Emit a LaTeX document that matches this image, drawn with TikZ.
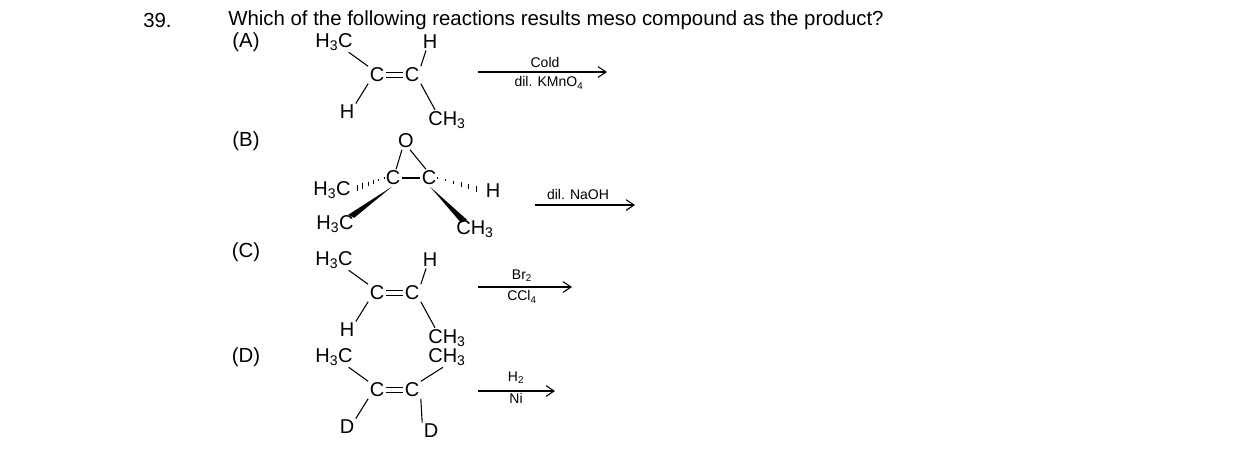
\documentclass[tikz,border=0pt]{standalone}
\usepackage{fontspec}
\setmainfont{Liberation Sans}
\usetikzlibrary{calc,arrows.meta}
\newcommand\sbs[1]{\textsubscript{#1}}
\begin{document}
\begin{tikzpicture}[x=0.75pt,y=-0.75pt,
  txt/.style={inner sep=0pt,font=\fontsize{15.3}{17}\selectfont},
  atm/.style={inner sep=1pt,font=\fontsize{15}{17}\selectfont},
  sm/.style={inner sep=0pt,font=\fontsize{10.5}{12}\selectfont},
  bd/.style={line width=0.8pt},
  rx/.style={line width=0.8pt,-{Straight Barb[length=6pt,width=8pt]}}]
\useasboundingbox (0,0) rectangle (1238,462);
\node[txt,anchor=west] (n39) at (143,20) {39.};
\node[txt,anchor=west] (q) at (228,20) {Which of the following reactions results meso compound as the product?};
\node[txt] (la) at (246,42) {(A)};
\node[txt] (lb) at (246,141) {(B)};
\node[txt] (lc) at (246,252) {(C)};
\node[txt] (ld) at (246,357) {(D)};
\newcommand\myalkene[6]{%
 \begin{scope}[shift={(0,#1)}]
 \node[atm] (#6tl) at (334,0) {#2};
 \node[atm] (#6tr) at (#3,0) {#4};
 \node[atm] (#6c1) at (377,33) {C};
 \node[atm] (#6c2) at (412,33) {C};
 \node[atm] (#6bl) at (347,70) {#5};
 \end{scope}
 \draw[bd] (#6c1.east)++(0,-2.2) coordinate (#6a1) -- (#6c2.west|-#6a1);
 \draw[bd] (#6c1.east)++(0,2.2) coordinate (#6a2) -- (#6c2.west|-#6a2);
 \draw[bd] ([xshift=11pt]#6tl.south) -- (#6c1.north west);
 \draw[bd] (#6c1.south west) -- (#6bl.north east);
 \draw[bd] (#6c2.north east) -- ([xshift=-3pt]#6tr.south);
}
\myalkene{42}{H\sbs{3}C}{430}{H}{H}{a}
\node[atm] (abr) at (447,120) {CH\sbs{3}};
\draw[bd] (ac2.south east) -- ([xshift=-9pt]abr.north);
\draw[rx] (478,72) coordinate (ar1) -- (607,72) coordinate (ar2);
\node[sm] (a1) at (545,62) {Cold};
\node[sm] (a2) at (549,83) {dil. KMnO\sbs{4}};
% B
\node[atm] (bo) at (406,141) {O};
\node[atm] (bc1) at (393,178) {C};
\node[atm] (bc2) at (429,178) {C};
\node[atm] (bh3c) at (332,190) {H\sbs{3}C};
\node[atm] (bh) at (493,191) {H};
\node[atm] (bh3c2) at (335,224) {H\sbs{3}C};
\node[atm] (bch3) at (475,229) {CH\sbs{3}};
\draw[bd] ($(bo.south)+(-4,0)$) -- ($(bc1.north)+(3,0)$);
\draw[bd] ($(bo.south)+(4,0)$) -- ($(bc2.north)+(-3,0)$);
\draw[bd] (bc1.east) -- (bc2.west);
\foreach \i in {0,...,5}{
 \draw[line width=0.7pt] ($(bc1.west)!{\i/6}!(bh3c.east)+(0,-0.8-\i*0.45)$) -- ++(0,{1.6+\i*0.9});
 \draw[line width=0.7pt] ($(bc2.east)!{\i/6}!(bh.west)+(0,-0.8-\i*0.45)$) -- ++(0,{1.6+\i*0.9});
}
\fill ($(bc1.south)+(-1,0)$) -- ($(bh3c2.north east)+(-7,1)$) -- ($(bh3c2.north east)+(-1,4)$) -- cycle;
\fill ($(bc2.south)+(1,0)$) -- ($(bch3.north)+(-14,4)$) -- ($(bch3.north)+(-8,1)$) -- cycle;
\draw[rx] (535,205) coordinate (br1) -- (635,205) coordinate (br2);
\node[sm] (b1) at (578,194) {dil. NaOH};
% C
\myalkene{260}{H\sbs{3}C}{430}{H}{H}{c}
\node[atm] (cbr) at (447,338) {CH\sbs{3}};
\draw[bd] (cc2.south east) -- ([xshift=-9pt]cbr.north);
\draw[rx] (478,287) coordinate (cr1) -- (572,287) coordinate (cr2);
\node[sm] (c1) at (522,276) {Br\sbs{2}};
\node[sm] (c2) at (522,297) {CCl\sbs{4}};
% D
\myalkene{357}{H\sbs{3}C}{447}{CH\sbs{3}}{D}{d}
\node[atm] (dbr) at (431,431) {D};
\draw[bd] (dc2.south east) -- (dbr.north west);
\draw[rx] (478,391) coordinate (dr1) -- (555,391) coordinate (dr2);
\node[sm] (d1) at (516,378) {H\sbs{2}};
\node[sm] (d2) at (516,398) {Ni};
\end{tikzpicture}
\end{document}
